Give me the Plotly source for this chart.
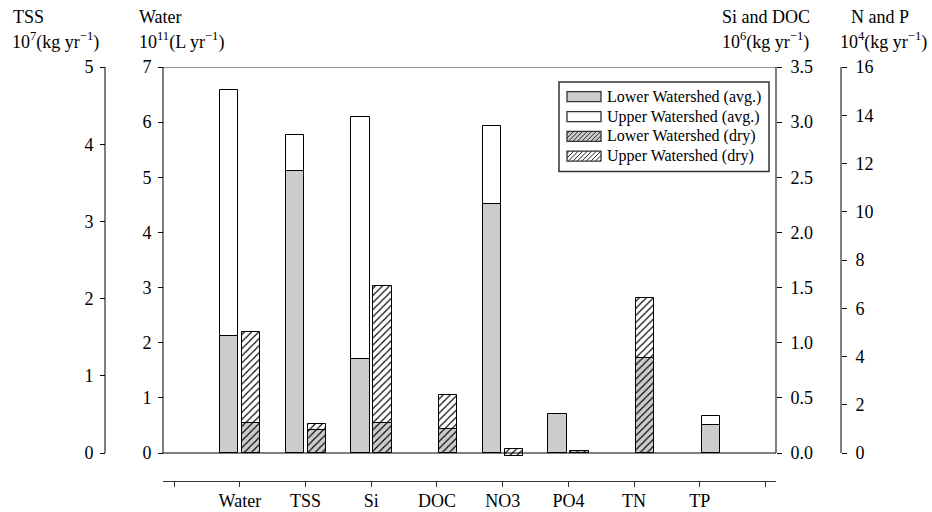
import plotly.graph_objects as go

# ---------------- data ----------------
categories = ["Water", "TSS", "Si", "DOC", "NO3", "PO4", "TN", "TP"]
axis_group = ["water", "tss", "sidoc", "sidoc", "np", "np", "np", "np"]

lower_avg = [2.13, 3.65, 0.85, None, 10.34, 1.60, None, 1.16]
upper_avg = [4.46, 0.47, 2.20, None, 3.21, None, None, 0.37]
lower_dry = [0.54, 0.30, 0.27, 0.22, -0.14, 0.08, 3.92, None]
upper_dry = [1.66, 0.07, 1.24, 0.31, 0.32, None, 2.49, None]

series_names = ["Lower Watershed (avg.)", "Upper Watershed (avg.)",
                "Lower Watershed (dry)", "Upper Watershed (dry)"]

axis_max = {"water": 7, "tss": 5, "sidoc": 3.5, "np": 16}
axis_dtick = {"water": 1, "tss": 1, "sidoc": 0.5, "np": 2}

# ---------------- geometry helpers ----------------
W, H = 932, 512
ML, MR, MT, MB = 60, 60, 67, 31
PW, PH = W - ML - MR, H - MT - MB


def px_x(p):
    return (p - ML) / PW


def px_y(p):
    return (H - MB - p) / PH


ZERO_PX, TOP_PX, BOT_PX = 453, 67, 457
axis_ref = {"water": "y", "tss": "y2", "sidoc": "y3", "np": "y4"}
axis_pos = {"water": px_x(163), "tss": px_x(105), "sidoc": px_x(776), "np": px_x(841)}


def axis_range(g):
    ppu = (ZERO_PX - TOP_PX) / axis_max[g]
    return [-(BOT_PX - ZERO_PX) / ppu, axis_max[g]]


FONT = "Liberation Serif"
GRAY = "#cccccc"
BAR_W = 0.278
LEFT_OFF, RIGHT_OFF = -0.305, 0.03
avg_offset = [LEFT_OFF] * 7 + [RIGHT_OFF]
dry_offset = [RIGHT_OFF] * 8

series = [
    dict(name=series_names[0], vals=lower_avg, base=None, off=avg_offset, color=GRAY, hatch=""),
    dict(name=series_names[1], vals=upper_avg, base=lower_avg, off=avg_offset, color="white", hatch=""),
    dict(name=series_names[2], vals=lower_dry, base=None, off=dry_offset, color=GRAY, hatch="/"),
    dict(name=series_names[3], vals=upper_dry, base=lower_dry, off=dry_offset, color="white", hatch="/"),
]

fig = go.Figure()
for s in series:
    for g in ["water", "tss", "sidoc", "np"]:
        idx = [i for i, a in enumerate(axis_group) if a == g and s["vals"][i] is not None]
        if not idx:
            continue
        ys = [s["vals"][i] for i in idx]
        if s["base"] is None:
            bases = [0] * len(idx)
        else:
            bases = [s["base"][i] if s["base"][i] is not None else 0 for i in idx]
        offs = [s["off"][i] for i in idx]
        pattern = dict(shape=s["hatch"], fgcolor="black", bgcolor=s["color"],
                       size=5, solidity=0.22, fillmode="replace") if s["hatch"] else dict(shape="")
        fig.add_trace(go.Bar(
            x=idx, y=ys, base=bases, offset=offs, width=BAR_W,
            xaxis="x", yaxis=axis_ref[g],
            marker=dict(color=s["color"], line=dict(color="black", width=1), pattern=pattern),
            name=s["name"], legendgroup=s["name"], showlegend=False,
        ))

tickfont = dict(family=FONT, size=18, color="black")
common_y = dict(showgrid=False, zeroline=False, showline=False, ticks="outside",
                ticklen=5, tickwidth=1, tickcolor="black", tickfont=tickfont,
                tick0=0, anchor="free", automargin=False)

layout = dict(
    width=W, height=H, margin=dict(l=ML, r=MR, t=MT, b=MB, autoexpand=False),
    paper_bgcolor="white", plot_bgcolor="white",
    barmode="overlay", bargap=0, showlegend=False,
    font=dict(family=FONT, size=17, color="black"),
    xaxis=dict(domain=[px_x(163), px_x(776)], range=[-1.17, 8.16],
               tickmode="array", tickvals=list(range(-1, len(categories) + 1)),
               ticktext=[""] + categories + [""],
               ticks="outside", ticklen=5, tickcolor="#333", showline=True,
               linecolor="#333", linewidth=1, showgrid=False, zeroline=False,
               anchor="free", position=0, automargin=False, ticklabelstandoff=-2,
               tickfont=dict(family=FONT, size=18, color="black")),
)
yaxis_names = {"water": "yaxis", "tss": "yaxis2", "sidoc": "yaxis3", "np": "yaxis4"}
for g, key in yaxis_names.items():
    d = dict(common_y)
    left = g in ("water", "tss")
    d.update(range=axis_range(g), dtick=axis_dtick[g], position=axis_pos[g],
             side="left" if left else "right", ticklabelstandoff=3 if left else 5)
    if g == "sidoc":
        d["tickformat"] = ".1f"
    if g == "water":
        d["domain"] = [px_y(BOT_PX), 1]
    else:
        d["overlaying"] = "y"
    layout[key] = d
fig.update_layout(**layout)

# axis lines and frame (drawn from 0 to the axis maximum)
shapes = []
for g in ["water", "tss", "sidoc", "np"]:
    shapes.append(dict(type="line", xref="paper", yref=axis_ref[g],
                       x0=axis_pos[g], x1=axis_pos[g], y0=0, y1=axis_max[g],
                       line=dict(color="black", width=1)))
shapes.append(dict(type="line", xref="paper", yref="y", x0=px_x(163), x1=px_x(776),
                   y0=axis_max["water"], y1=axis_max["water"], line=dict(color="#333", width=1)))
shapes.append(dict(type="line", xref="paper", yref="y", x0=px_x(163), x1=px_x(776),
                   y0=0, y1=0, line=dict(color="black", width=1)))

# ---------------- legend (box, swatches, labels) ----------------
LEG_X0, LEG_X1, LEG_Y0, LEG_Y1 = 559, 769, 82, 171.5
SW_X0, SW_X1, SW_H = 567, 601, 10
ROW_Y = [96.7, 116.6, 136.4, 156.2]
TEXT_X = 604.5

shapes.append(dict(type="rect", xref="paper", yref="paper",
                   x0=px_x(LEG_X0), x1=px_x(LEG_X1), y0=px_y(LEG_Y1), y1=px_y(LEG_Y0),
                   fillcolor="white", line=dict(color="#333", width=1.5), layer="above"))


def hatch_path(x0, y0, x1, y1, step):
    parts = []
    c = x0 + y0 + step / 2
    while c < x1 + y1:
        xa = max(x0, c - y1)
        xb = min(x1, c - y0)
        if xb > xa:
            parts.append("M{:.5f},{:.5f}L{:.5f},{:.5f}".format(
                px_x(xa), px_y(c - xa), px_x(xb), px_y(c - xb)))
        c += step
    return "".join(parts)


for k, s in enumerate(series):
    yc = ROW_Y[k]
    ya, yb = yc - SW_H / 2, yc + SW_H / 2
    shapes.append(dict(type="rect", xref="paper", yref="paper",
                       x0=px_x(SW_X0), x1=px_x(SW_X1), y0=px_y(yb), y1=px_y(ya),
                       fillcolor=s["color"], line=dict(width=0), layer="above"))
    if s["hatch"]:
        shapes.append(dict(type="path", xref="paper", yref="paper",
                           path=hatch_path(SW_X0, ya, SW_X1, yb, 4.5),
                           line=dict(color="#222", width=1), layer="above"))
    shapes.append(dict(type="rect", xref="paper", yref="paper",
                       x0=px_x(SW_X0), x1=px_x(SW_X1), y0=px_y(yb), y1=px_y(ya),
                       fillcolor="rgba(0,0,0,0)", line=dict(color="#333", width=1.3), layer="above"))
    fig.add_annotation(text=s["name"], xref="paper", yref="paper",
                       x=px_x(TEXT_X), y=px_y(yc), xanchor="left", yanchor="middle",
                       showarrow=False, font=dict(family=FONT, size=16, color="black"))

fig.update_layout(shapes=shapes)

titles = [
    ("TSS", 11, 17, "left"),
    ("10<sup>7</sup>(kg yr<sup>−1</sup>)", 10, 41, "left"),
    ("Water", 137, 17, "left"),
    ("10<sup>11</sup>(L yr<sup>−1</sup>)", 137, 41, "left"),
    ("Si and DOC", 766, 17, "center"),
    ("10<sup>6</sup>(kg yr<sup>−1</sup>)", 765, 41, "center"),
    ("N and P", 880, 17, "center"),
    ("10<sup>4</sup>(kg yr<sup>−1</sup>)", 883, 41, "center"),
]
for text, x, y, anchor in titles:
    fig.add_annotation(text=text, xref="paper", yref="paper", x=px_x(x), y=px_y(y),
                       xanchor=anchor, yanchor="middle", showarrow=False,
                       font=dict(family=FONT, size=18, color="black"))

fig.write_html("out.html")
